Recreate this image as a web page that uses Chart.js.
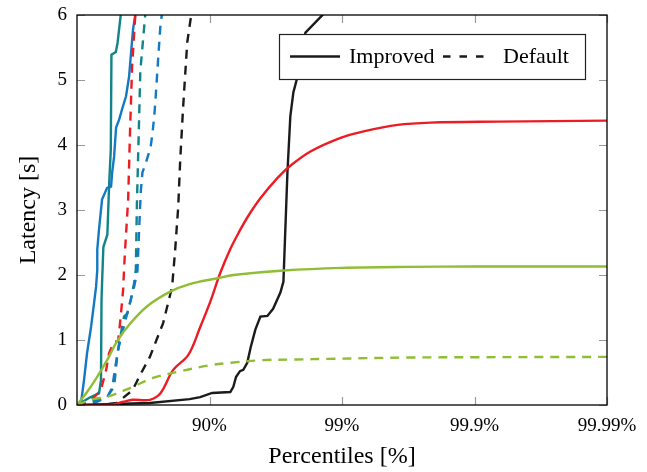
<!DOCTYPE html>
<html>
<head>
<meta charset="utf-8">
<script src="https://cdn.jsdelivr.net/npm/chart.js@4.4.1/dist/chart.umd.min.js"></script>
<style>
  html, body { margin: 0; padding: 0; background: #fff; }
  #wrap { width: 647px; height: 472px; }
</style>
</head>
<body>
<div id="wrap"><canvas id="chart" width="647" height="472"></canvas></div>
<script>
// x is measured in "nines": -log10(1 - percentile) -> 90% = 1, 99% = 2 ...
const xTickValues = [1, 2, 3, 4];
const xTickLabels = ['90%', '99%', '99.9%', '99.99%'];
const yTickValues = [0, 1, 2, 3, 4, 5, 6];

// [nines, latency in s]
const blackImproved = [[0,0],[0.55,0.03],[0.85,0.09],[0.93,0.12],[1.02,0.185],[1.157,0.20],[1.18,0.28],[1.20,0.43],[1.23,0.52],[1.255,0.54],[1.285,0.65],[1.31,0.88],[1.346,1.16],[1.384,1.36],[1.437,1.37],[1.48,1.48],[1.535,1.73],[1.558,1.90],[1.588,3.57],[1.61,4.44],[1.633,4.81],[1.664,5.05],[1.724,5.73],[1.853,6.0],[1.93,6.3]];
const blackDefault = [[0,0],[0.17,0],[0.30,0.03],[0.42,0.23],[0.476,0.46],[0.55,0.74],[0.65,1.26],[0.718,1.82],[0.741,2.39],[0.764,3.05],[0.779,3.77],[0.80,4.55],[0.832,5.58],[0.862,6.0]];
const redImproved = [[0,0],[0.25,0],[0.35,0.05],[0.42,0.08],[0.55,0.08],[0.63,0.18],[0.726,0.54],[0.84,0.77],[0.93,1.20],[1.006,1.59],[1.081,2.03],[1.157,2.40],[1.22,2.65],[1.29,2.90],[1.384,3.18],[1.512,3.49],[1.61,3.68],[1.762,3.90],[1.989,4.11],[2.163,4.21],[2.42,4.31],[2.669,4.345],[3.176,4.36],[4.0,4.375]];
const redDefault = [[0,0],[0.053,0.03],[0.129,0.12],[0.18,0.23],[0.22,0.54],[0.242,0.80],[0.28,0.97],[0.31,0.98],[0.33,1.36],[0.348,1.77],[0.355,2.08],[0.363,2.39],[0.386,3.16],[0.40,4.19],[0.416,5.21],[0.44,6.0]];
const greenImproved = [[0,0],[0.076,0.20],[0.151,0.43],[0.227,0.69],[0.302,0.98],[0.40,1.25],[0.53,1.52],[0.70,1.74],[0.85,1.86],[1.06,1.95],[1.18,2.00],[1.56,2.07],[2.0,2.11],[2.5,2.125],[3.0,2.13],[4.0,2.13]];
const greenDefault = [[0,0],[0.10,0.08],[0.25,0.14],[0.42,0.28],[0.58,0.42],[0.76,0.51],[1.0,0.61],[1.16,0.65],[1.40,0.69],[1.65,0.70],[1.9,0.71],[2.5,0.73],[3.0,0.735],[4.0,0.74]];
const blueImproved = [[0,0],[0.03,0.03],[0.053,0.385],[0.076,0.80],[0.106,1.20],[0.129,1.57],[0.144,1.82],[0.153,2.08],[0.153,2.39],[0.166,2.70],[0.189,3.16],[0.227,3.34],[0.257,3.36],[0.265,3.57],[0.28,3.82],[0.295,4.27],[0.318,4.39],[0.34,4.55],[0.37,4.75],[0.393,5.05],[0.408,5.42],[0.423,5.78],[0.44,6.0]];
const blueDefault = [[0,0],[0.13,0.03],[0.23,0.12],[0.267,0.28],[0.29,0.60],[0.316,0.90],[0.355,1.22],[0.43,1.81],[0.456,2.06],[0.469,2.70],[0.481,3.27],[0.494,3.58],[0.519,3.72],[0.556,3.97],[0.57,4.19],[0.583,4.44],[0.594,4.75],[0.614,5.37],[0.63,5.85],[0.64,6.0]];
const tealImproved = [[0,0],[0.10,0.12],[0.166,0.18],[0.181,0.38],[0.185,1.62],[0.191,1.98],[0.199,2.43],[0.229,2.62],[0.242,3.36],[0.255,3.93],[0.26,5.39],[0.293,5.43],[0.306,5.57],[0.33,6.0]];
const tealDefault = [[0,0],[0.08,0.03],[0.154,0.08],[0.229,0.13],[0.28,0.28],[0.293,0.54],[0.305,0.80],[0.355,1.36],[0.38,1.41],[0.406,1.62],[0.431,1.875],[0.444,2.08],[0.452,3.08],[0.465,4.11],[0.478,5.14],[0.515,6.0]];

const FONT = "'Liberation Serif', 'DejaVu Serif', serif";
const DASH = [9, 7];

const COLORS = {
  black: '#1b1b1b',
  red: '#ec1c24',
  green: '#8fbd33',
  blue: '#1379c4',
  teal: '#118488'
};

function series(points, color, dashed, smooth) {
  return {
    data: points.map(p => ({ x: p[0], y: p[1] })),
    borderColor: color,
    borderWidth: 2.4,
    borderDash: dashed ? DASH : [],
    pointRadius: 0,
    fill: false,
    tension: smooth ? 0.35 : 0
  };
}

// frame + inward tick marks on all four sides
const framePlugin = {
  id: 'frame',
  afterDatasetsDraw(chart) {
    const { ctx, chartArea: a, scales } = chart;
    ctx.save();
    ctx.strokeStyle = '#9a9a9a';
    ctx.lineWidth = 1.2;
    const len = 8;
    xTickValues.forEach(v => {
      const px = Math.round(scales.x.getPixelForValue(v)) + 0.5;
      ctx.beginPath();
      ctx.moveTo(px, a.bottom); ctx.lineTo(px, a.bottom - len);
      ctx.moveTo(px, a.top); ctx.lineTo(px, a.top + len);
      ctx.stroke();
    });
    yTickValues.forEach(v => {
      const py = Math.round(scales.y.getPixelForValue(v)) + 0.5;
      ctx.beginPath();
      ctx.moveTo(a.left, py); ctx.lineTo(a.left + len, py);
      ctx.moveTo(a.right, py); ctx.lineTo(a.right - len, py);
      ctx.stroke();
    });
    ctx.strokeStyle = '#000';
    ctx.lineWidth = 1.3;
    ctx.strokeRect(a.left, a.top, a.right - a.left, a.bottom - a.top);
    ctx.restore();
  }
};

// legend box inside the plot, top right
const legendPlugin = {
  id: 'boxLegend',
  afterDraw(chart) {
    const { ctx } = chart;
    const box = { x: 279, y: 34, w: 306, h: 45 };
    const cy = box.y + box.h / 2;
    ctx.save();
    ctx.fillStyle = '#fff';
    ctx.fillRect(box.x, box.y, box.w, box.h);
    ctx.strokeStyle = '#222';
    ctx.lineWidth = 1.2;
    ctx.strokeRect(box.x + 0.5, box.y + 0.5, box.w, box.h);

    ctx.strokeStyle = COLORS.black;
    ctx.lineWidth = 2.4;
    ctx.beginPath();
    ctx.moveTo(290, cy); ctx.lineTo(340, cy);
    ctx.stroke();
    ctx.setLineDash([7.5, 9]);
    ctx.beginPath();
    ctx.moveTo(443, cy); ctx.lineTo(491, cy);
    ctx.stroke();
    ctx.setLineDash([]);

    ctx.fillStyle = '#000';
    ctx.font = '22px ' + FONT;
    ctx.textBaseline = 'middle';
    ctx.fillText('Improved', 349, cy + 1);
    ctx.fillText('Default', 503, cy + 1);
    ctx.restore();
  }
};

new Chart(document.getElementById('chart'), {
  type: 'line',
  data: {
    datasets: [
      series(greenDefault, COLORS.green, true, true),
      series(greenImproved, COLORS.green, false, true),
      series(redImproved, COLORS.red, false, true),
      series(blackImproved, COLORS.black, false, false),
      series(blackDefault, COLORS.black, true, false),
      series(blueDefault, COLORS.blue, true, false),
      series(tealDefault, COLORS.teal, true, false),
      series(redDefault, COLORS.red, true, false),
      series(blueImproved, COLORS.blue, false, false),
      series(tealImproved, COLORS.teal, false, false)
    ]
  },
  options: {
    responsive: false,
    animation: false,
    layout: { padding: { top: 15, right: 40, left: 0, bottom: 0 } },
    plugins: { legend: { display: false }, tooltip: { enabled: false } },
    scales: {
      x: {
        type: 'linear',
        min: 0,
        max: 4,
        afterBuildTicks: s => { s.ticks = xTickValues.map(v => ({ value: v })); },
        afterFit: s => { s.height = 67; },
        ticks: {
          color: '#000',
          font: { family: FONT, size: 19 },
          padding: 2,
          maxRotation: 0,
          autoSkip: false,
          callback: v => xTickLabels[xTickValues.indexOf(v)]
        },
        grid: { display: false },
        border: { display: false },
        title: {
          display: true,
          text: 'Percentiles [%]',
          color: '#000',
          font: { family: FONT, size: 24 },
          padding: { top: 0, bottom: 1 }
        }
      },
      y: {
        min: 0,
        max: 6,
        afterBuildTicks: s => { s.ticks = yTickValues.map(v => ({ value: v })); },
        afterFit: s => { s.width = 77; },
        ticks: {
          color: '#000',
          font: { family: FONT, size: 19 },
          padding: 2
        },
        grid: { display: false },
        border: { display: false },
        title: {
          display: true,
          text: 'Latency [s]',
          color: '#000',
          font: { family: FONT, size: 24 },
          padding: { top: 14, bottom: 0 }
        }
      }
    }
  },
  plugins: [framePlugin, legendPlugin]
});
</script>
</body>
</html>
